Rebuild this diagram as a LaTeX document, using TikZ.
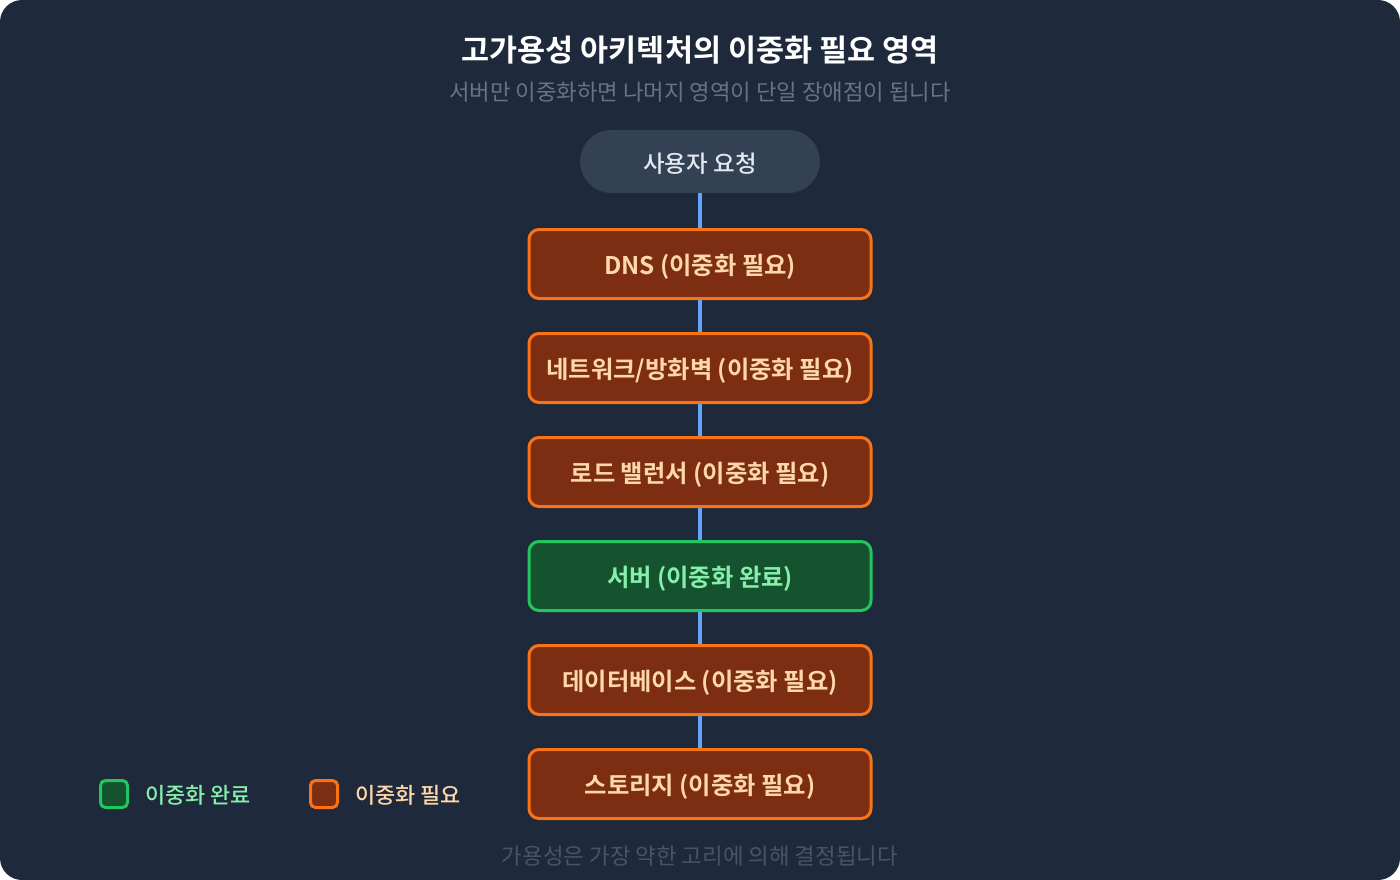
\documentclass[tikz,border=0pt]{standalone}
\usepackage{fontspec}
\setmainfont{Noto Sans CJK KR}[BoldFont={Noto Sans CJK KR Bold}]
\newfontfamily\krmed{Noto Sans CJK KR Medium}
\newcommand\lowtxt[1]{\raisebox{-2.5pt}[\height][\depth]{#1}}
\definecolor{bg}{HTML}{1E293B}
\definecolor{pill}{HTML}{334155}
\definecolor{pilltxt}{HTML}{E2E8F0}
\definecolor{ofill}{HTML}{7C2D12}
\definecolor{odraw}{HTML}{F97316}
\definecolor{otxt}{HTML}{FED7AA}
\definecolor{gfill}{HTML}{14532D}
\definecolor{gdraw}{HTML}{22C55E}
\definecolor{gtxt}{HTML}{86EFAC}
\definecolor{line}{HTML}{60A5FA}
\definecolor{sub}{HTML}{64748B}
\definecolor{foot}{HTML}{475569}
\begin{document}
\begin{tikzpicture}[x=1pt,y=-1pt,
  need/.style={draw=odraw,fill=ofill,line width=3pt,rounded corners=10pt,minimum width=342pt,minimum height=69pt,inner sep=0pt,text=otxt,font=\fontsize{24.3}{28}\selectfont\bfseries},
  done/.style={need,draw=gdraw,fill=gfill,text=gtxt},
  conn/.style={draw=line,line width=4pt},
  legbox/.style={line width=3pt,rounded corners=5pt,minimum width=27pt,minimum height=27pt,inner sep=0pt},
  legtxt/.style={anchor=west,inner sep=0pt,font=\krmed\fontsize{21.9}{26}\selectfont}
]
\useasboundingbox (0,0) rectangle (1400,880);
\fill[white] (0,0) rectangle (1400,880);
\fill[bg,rounded corners=22pt] (0,0) rectangle (1400,880);
\node[text=white,font=\fontsize{30.5}{36}\selectfont\bfseries] (title) at (700,50) {고가용성 아키텍처의 이중화 필요 영역};
\node[text=sub,font=\fontsize{22.3}{26}\selectfont] (subtitle) at (700,92) {서버만 이중화하면 나머지 영역이 단일 장애점이 됩니다};
\node[fill=pill,rounded corners=31.5pt,minimum width=240pt,minimum height=63pt,text=pilltxt,font=\krmed\fontsize{23.5}{28}\selectfont] (user) at (700,161.5) {\lowtxt{사용자 요청}};
\node[need] (dns) at (700,264) {\lowtxt{DNS (이중화 필요)}};
\node[need] (net) at (700,368) {\lowtxt{네트워크/방화벽 (이중화 필요)}};
\node[need] (lb) at (700,472) {\lowtxt{로드 밸런서 (이중화 필요)}};
\node[done] (srv) at (700,576) {\lowtxt{서버 (이중화 완료)}};
\node[need] (db) at (700,680) {\lowtxt{데이터베이스 (이중화 필요)}};
\node[need] (st) at (700,784) {\lowtxt{스토리지 (이중화 필요)}};
\draw[conn] (user.south) -- (dns.north);
\draw[conn] (dns.south) -- (net.north);
\draw[conn] (net.south) -- (lb.north);
\draw[conn] (lb.south) -- (srv.north);
\draw[conn] (srv.south) -- (db.north);
\draw[conn] (db.south) -- (st.north);
\node[legbox,draw=gdraw,fill=gfill] (lg) at (114,794) {};
\node[legtxt,text=gtxt] (lgt) at (145,795) {이중화 완료};
\node[legbox,draw=odraw,fill=ofill] (lo) at (324,794) {};
\node[legtxt,text=otxt] (lot) at (355,795) {이중화 필요};
\node[text=foot,font=\fontsize{22.4}{26}\selectfont] (footer) at (700,856) {가용성은 가장 약한 고리에 의해 결정됩니다};
\end{tikzpicture}
\end{document}
